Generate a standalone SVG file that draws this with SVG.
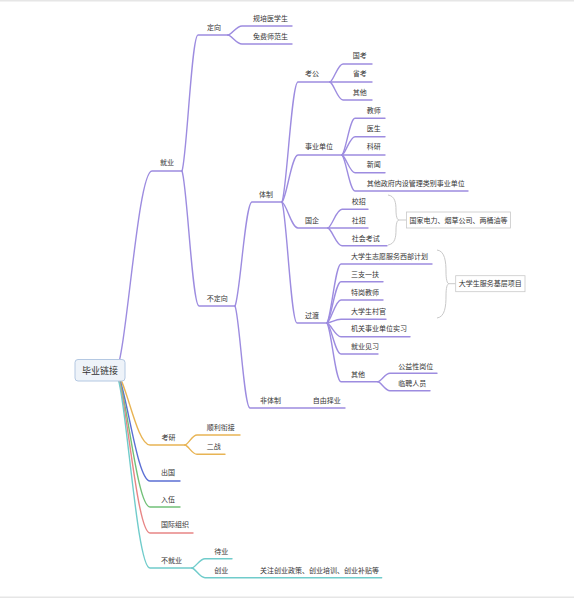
<svg xmlns="http://www.w3.org/2000/svg" width="574" height="598" viewBox="0 0 574 598">
<style>
text{font-family:"Noto Sans CJK SC","Noto Sans",sans-serif;font-size:7px;fill:#333}
.root{font-size:9px;text-anchor:middle}
.ln{fill:none;stroke-width:1.4;stroke-linecap:round}
.p{stroke:#9d8ce0}
.y{stroke:#e8b454}
.b{stroke:#5b6fd4}
.g{stroke:#72c178}
.r{stroke:#e88585}
.t{stroke:#70cccb}
.br{fill:none;stroke:#c9c9c9;stroke-width:1}
.box{fill:#fff;stroke:#c9c9c9;stroke-width:0.8}
.bt{text-anchor:middle}
</style>
<rect x="0" y="0" width="574" height="1.5" fill="#e6e6e6"/>
<rect x="0" y="596.5" width="574" height="1.5" fill="#e6e6e6"/>
<g id="connectors">
<!-- root branches -->
<path class="ln p" d="M116,372 C126.8,351.9 137.6,171 152,171 L182,171"/>
<path class="ln y" d="M116,372 C126.2,379.3 136.4,445 150,445 L185,445"/>
<path class="ln b" d="M116,372 C126.2,382.9 136.4,481 150,481 L180,481"/>
<path class="ln g" d="M116,372 C126.2,385.5 136.4,507 150,507 L180,507"/>
<path class="ln r" d="M116,372 C126.2,388.1 136.4,533 150,533 L193,533"/>
<path class="ln t" d="M116,372 C126.2,391.6 136.4,568 150,568 L192,568"/>
<!-- 就业 -->
<path class="ln p" d="M182,171 C186.8,157.4 191.6,35 198,35 L228,35"/>
<path class="ln p" d="M182,171 C187.1,184.5 192.2,306 199,306 L235,306"/>
<path class="ln p" d="M228,35 C232.2,34.1 236.4,26 242,26 L292,26"/>
<path class="ln p" d="M228,35 C232.2,35.9 236.4,44 242,44 L292,44"/>
<!-- 不定向 -->
<path class="ln p" d="M235,306 C240.1,295.6 245.2,202 252,202 L282,202"/>
<path class="ln p" d="M235,306 C239.5,316.2 244,408 250,408 L345,408"/>
<!-- 体制 -->
<path class="ln p" d="M282,202 C286.8,190 291.6,82 298,82 L330,82"/>
<path class="ln p" d="M282,202 C286.8,197.3 291.6,155 298,155 L342,155"/>
<path class="ln p" d="M282,202 C286.8,204.6 291.6,228 298,228 L328,228"/>
<path class="ln p" d="M282,202 C286.5,214.1 291,323 297,323 L327,323"/>
<!-- 考公 -->
<path class="ln p" d="M330,82 C333.9,80.2 337.8,64 343,64 L372,64"/>
<path class="ln p" d="M330,82 L372,82"/>
<path class="ln p" d="M330,82 C333.9,83.8 337.8,100 343,100 L372,100"/>
<!-- 事业单位 -->
<path class="ln p" d="M342,155 C345.9,151.3 349.8,118.3 355,118.3 L385,118.3"/>
<path class="ln p" d="M342,155 C345.9,153.2 349.8,136.7 355,136.7 L385,136.7"/>
<path class="ln p" d="M342,155 L385,155"/>
<path class="ln p" d="M342,155 C345.9,156.8 349.8,172.7 355,172.7 L385,172.7"/>
<path class="ln p" d="M342,155 C345.9,158.6 349.8,191 355,191 L468,191"/>
<!-- 国企 -->
<path class="ln p" d="M328,228 C332.2,226.1 336.4,209.3 342,209.3 L368,209.3"/>
<path class="ln p" d="M328,228 L368,228"/>
<path class="ln p" d="M328,228 C332.2,229.8 336.4,245.7 342,245.7 L387,245.7"/>
<!-- 过渡 -->
<path class="ln p" d="M327,323 C331.2,317.1 335.4,264 341,264 L432,264"/>
<path class="ln p" d="M327,323 C331.2,318.9 335.4,281.7 341,281.7 L383,281.7"/>
<path class="ln p" d="M327,323 C331.2,320.7 335.4,300 341,300 L383,300"/>
<path class="ln p" d="M327,323 C331.2,322.6 335.4,319.3 341,319.3 L386,319.3"/>
<path class="ln p" d="M327,323 C331.2,324.4 335.4,336.7 341,336.7 L410,336.7"/>
<path class="ln p" d="M327,323 C331.2,326.1 335.4,354 341,354 L378,354"/>
<path class="ln p" d="M327,323 C331.2,328.9 335.4,381.7 341,381.7 L378,381.7"/>
<path class="ln p" d="M378,381.7 C381.6,380.9 385.2,373.3 390,373.3 L437,373.3"/>
<path class="ln p" d="M378,381.7 C381.6,382.6 385.2,390.7 390,390.7 L430,390.7"/>
<!-- 考研 -->
<path class="ln y" d="M185,445 C188.6,444 192.2,435 197,435 L240,435"/>
<path class="ln y" d="M185,445 C188.6,445.9 192.2,454.3 197,454.3 L225,454.3"/>
<!-- 不就业 -->
<path class="ln t" d="M192,568 C195.9,567.1 199.8,558.7 205,558.7 L232,558.7"/>
<path class="ln t" d="M192,568 C195.9,569 199.8,577.7 205,577.7 L381.7,577.7"/>
<!-- brackets -->
<path class="br" d="M388,195 C395,196 396,203 396,210 C396,216 397,220 399,220 C397,220 396,224 396,230 C396,237 395,244 388,245"/>
<path class="br" d="M399,220 L406.5,220"/>
<path class="br" d="M437,250 C445,251 446,262 446,272 C446,279 447,283.7 449,283.7 C447,283.7 446,288 446,296 C446,306 445,317 437,318"/>
<path class="br" d="M449,283.7 L455.7,283.7"/>
</g>
<g id="root"><rect x="75" y="359.5" width="50" height="21.5" rx="3" fill="#eef3f9" stroke="#b4c8e2" stroke-width="1"/><text class="root" x="100" y="373.5">毕业链接</text></g>
<g id="n-jiuye"><text x="160" y="165">就业</text></g>
<g id="n-dingxiang"><text x="207" y="30">定向</text></g>
<g id="n-guipei"><text x="253" y="21">规培医学生</text></g>
<g id="n-mianfei"><text x="253" y="38.8">免费师范生</text></g>
<g id="n-budingxiang"><text x="206.7" y="300.8">不定向</text></g>
<g id="n-tizhi"><text x="259" y="196.8">体制</text></g>
<g id="n-feitizhi"><text x="260" y="403">非体制</text></g>
<g id="n-ziyou"><text x="312.7" y="403">自由择业</text></g>
<g id="n-kaogong"><text x="305" y="76">考公</text></g>
<g id="n-guokao"><text x="352.7" y="58.3">国考</text></g>
<g id="n-shengkao"><text x="352.7" y="76">省考</text></g>
<g id="n-qita1"><text x="352.7" y="94.8">其他</text></g>
<g id="n-shiye"><text x="305" y="149">事业单位</text></g>
<g id="n-jiaoshi"><text x="366.7" y="112.8">教师</text></g>
<g id="n-yisheng"><text x="366.7" y="131.2">医生</text></g>
<g id="n-keyan"><text x="366.7" y="149.3">科研</text></g>
<g id="n-xinwen"><text x="366.7" y="167.2">新闻</text></g>
<g id="n-qitazf"><text x="366.7" y="185.8">其他政府内设管理类别事业单位</text></g>
<g id="n-guoqi"><text x="305" y="222.5">国企</text></g>
<g id="n-xiaozhao"><text x="351.7" y="204">校招</text></g>
<g id="n-shezhao"><text x="351.7" y="222.5">社招</text></g>
<g id="n-shehui"><text x="351.7" y="240.7">社会考试</text></g>
<g id="n-guoqibox"><rect class="box" x="406.5" y="212" width="104" height="16"/><text class="bt" x="458.5" y="222.5">国家电力、烟草公司、两桶油等</text></g>
<g id="n-guodu"><text x="305" y="317.5">过渡</text></g>
<g id="n-xibu"><text x="351" y="258.5">大学生志愿服务西部计划</text></g>
<g id="n-sanzhi"><text x="351" y="276.7">三支一扶</text></g>
<g id="n-tegang"><text x="351" y="294.8">特岗教师</text></g>
<g id="n-cunguan"><text x="351" y="313.5">大学生村官</text></g>
<g id="n-jiguan"><text x="351" y="331.2">机关事业单位实习</text></g>
<g id="n-jianxi"><text x="351" y="348.5">就业见习</text></g>
<g id="n-qita2"><text x="351" y="376.8">其他</text></g>
<g id="n-gongyi"><text x="398.3" y="368.5">公益性岗位</text></g>
<g id="n-linpin"><text x="398.3" y="385.8">临聘人员</text></g>
<g id="n-jicengbox"><rect class="box" x="455.7" y="275.7" width="69.3" height="16"/><text class="bt" x="490.3" y="286.2">大学生服务基层项目</text></g>
<g id="n-kaoyan"><text x="161.5" y="439.7">考研</text></g>
<g id="n-shunli"><text x="206.7" y="429.8">顺利衔接</text></g>
<g id="n-erzhan"><text x="206.7" y="449">二战</text></g>
<g id="n-chuguo"><text x="161" y="475.2">出国</text></g>
<g id="n-ruwu"><text x="161" y="501.5">入伍</text></g>
<g id="n-guoji"><text x="161" y="526.8">国际组织</text></g>
<g id="n-bujiuye"><text x="161" y="562.5">不就业</text></g>
<g id="n-daiye"><text x="214.3" y="553.5">待业</text></g>
<g id="n-chuangye"><text x="214.3" y="572.5">创业</text></g>
<g id="n-guanzhu"><text x="260" y="572.5">关注创业政策、创业培训、创业补贴等</text></g>
</svg>
